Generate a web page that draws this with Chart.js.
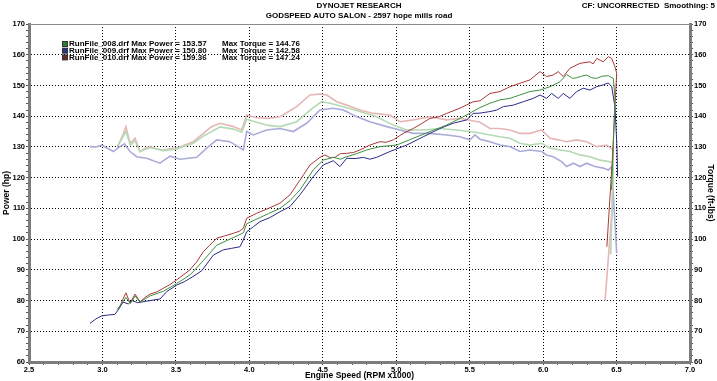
<!DOCTYPE html>
<html><head><meta charset="utf-8">
<script src="https://cdn.jsdelivr.net/npm/chart.js@4.4.1/dist/chart.umd.min.js"></script>
<style>
html,body{margin:0;padding:0;background:#fff;}
canvas{display:block;}
</style></head><body>
<canvas id="c" width="717" height="381"></canvas>
<script>
// ---- text ----
const chartTitle = 'DYNOJET RESEARCH';
const chartSubtitle = 'GODSPEED AUTO SALON - 2597 hope mills road';
const cornerNote = 'CF: UNCORRECTED  Smoothing: 5';
const xTitle = 'Engine Speed (RPM x1000)';
const yTitle = 'Power (hp)';
const y1Title = 'Torque (ft-lbs)';
const runNames = ['RunFile_008.drf', 'RunFile_009.drf', 'RunFile_010.drf'];
const maxPower = [153.57, 150.80, 159.36];
const maxTorque = [144.76, 142.58, 147.24];

// ---- series (RPM x1000, value) ----
const p008_rpm = [3.1,3.13,3.16,3.19,3.222,3.256,3.324,3.414,3.505,3.6,3.687,3.778,3.891,3.959,3.982,4.05,4.13,4.209,4.277,4.345,4.435,4.503,4.571,4.62,4.663,4.73,4.799,4.889,5.003,5.116,5.23,5.343,5.456,5.57,5.638,5.706,5.774,5.842,5.91,5.979,6.047,6.115,6.16,6.2,6.228,6.26,6.296,6.33,6.365,6.4,6.444,6.478,6.489,6.478,6.465];
const p008_hp  = [77,79,81,79,81.5,79.5,81.5,83,85.5,88.5,93,98,100.5,102,105,106.5,108.3,110,112.5,116,122.5,125.7,126.6,126,126.8,127.8,129,130.1,130.6,132.8,135,137.1,139.8,142.8,144.2,145.3,145.8,146.9,148,148.5,149.6,151.2,153.57,152.3,152.5,153,153.4,152.5,152.3,153,153.2,152.3,146.3,130,116];

const p009_rpm = [2.915,2.955,2.995,3.04,3.085,3.108,3.14,3.176,3.2,3.24,3.3,3.392,3.437,3.505,3.56,3.616,3.676,3.755,3.823,3.88,3.936,3.959,3.982,4.027,4.073,4.14,4.209,4.277,4.345,4.435,4.503,4.571,4.617,4.663,4.72,4.776,4.82,4.867,4.957,5.071,5.184,5.298,5.388,5.48,5.524,5.57,5.638,5.684,5.729,5.797,5.865,5.933,5.979,6.024,6.058,6.103,6.137,6.183,6.228,6.273,6.319,6.365,6.409,6.444,6.467,6.489,6.503,6.507];
const p009_hp  = [72.6,74,75,75.3,75.5,77,79.5,78.9,80,79.3,79.8,80.5,82.9,85,86.2,87.8,89.7,94.8,96.5,97,97.5,99.7,102.4,104,105.7,107,108.9,110.6,114.4,120.3,124.1,125.5,123.6,126.3,126.2,126.6,126,126.6,128.5,130.6,133.3,136,137.7,138.8,140.9,141,141.5,142,143.1,143.6,144.7,145.8,146.9,145.8,147.4,145.8,147.4,145.8,148,149.1,148.5,149.6,150.2,150.8,149.6,143.1,130,120.3];

const p010_rpm = [3.106,3.119,3.14,3.16,3.188,3.222,3.256,3.29,3.324,3.37,3.414,3.46,3.505,3.596,3.64,3.687,3.73,3.778,3.83,3.891,3.93,3.959,3.982,4.05,4.13,4.209,4.277,4.345,4.413,4.481,4.515,4.55,4.583,4.62,4.663,4.71,4.753,4.821,4.889,4.93,4.98,5.048,5.116,5.17,5.23,5.29,5.343,5.434,5.524,5.57,5.638,5.706,5.774,5.842,5.91,5.979,6.024,6.069,6.103,6.137,6.183,6.251,6.319,6.34,6.365,6.409,6.444,6.467,6.489,6.501,6.47,6.434];
const p010_hp  = [77.5,78,80.5,82.5,79.2,82.1,79.6,81,82.1,82.8,84,85.2,86.7,90,92.5,95.9,98,100.3,101,101.9,102.5,103.5,106.8,108.4,110,111.7,114.4,119.2,124.1,126.6,127.4,126.5,126.6,127.8,127.9,128.2,129,130.6,131.7,131.5,132.3,134.4,136,137.5,139.3,139.8,140.9,142.6,144.7,145,147.4,148,149.6,150.7,151.8,154.5,152.9,153.4,154.5,152.9,155.6,157.2,157.7,157,158.8,157.7,159.36,158.8,156.1,154,125,97.5];

const t008_rpm = [3.1,3.16,3.19,3.222,3.256,3.324,3.414,3.505,3.618,3.687,3.8,3.891,3.948,3.982,4.05,4.13,4.209,4.322,4.413,4.492,4.549,4.64,4.753,4.867,4.98,5.071,5.184,5.298,5.412,5.502,5.57,5.638,5.706,5.774,5.842,5.91,5.99,6.047,6.115,6.183,6.251,6.319,6.387,6.455,6.478,6.47,6.46];
const t008_lb  = [130,135,130.5,132,128.5,129.8,128.8,129.3,131.2,133.5,136.5,135.8,134.8,139,138,137,136.6,138.2,142,144.76,144.2,143.1,141.5,139.8,137.1,135.5,135.5,136,135.5,135,134.5,133.9,133.3,132.8,131.2,130.6,131.2,129.6,129,128.5,127.4,126.8,125.7,125.2,124.7,110,95];

const t009_rpm = [2.915,2.955,2.995,3.074,3.119,3.15,3.188,3.233,3.301,3.392,3.46,3.528,3.642,3.71,3.778,3.868,3.959,3.982,4.027,4.118,4.209,4.299,4.39,4.481,4.571,4.64,4.731,4.821,4.935,5.026,5.116,5.23,5.343,5.434,5.502,5.536,5.57,5.638,5.706,5.774,5.842,5.91,5.99,6.024,6.069,6.126,6.16,6.206,6.251,6.296,6.353,6.409,6.444,6.467,6.501];
const t009_lb  = [130.1,130,130.6,128.5,130.1,131,128.5,126.8,126.3,124.7,127,126,126.6,129.6,132.3,131.7,129,135,133.9,135.5,136,135,137.7,142,142.58,142,139.8,138.2,136.6,135.5,134.4,134.4,133.9,133.3,132.3,133.9,132.5,131.7,130.6,130.1,128.5,129,128.5,127.4,126.8,125.2,123.6,124.7,123.6,124.7,123.6,123.1,122.5,123.6,95.4];

const t010_rpm = [3.106,3.119,3.14,3.16,3.188,3.222,3.256,3.29,3.324,3.37,3.414,3.46,3.505,3.618,3.687,3.74,3.8,3.891,3.948,3.982,4.05,4.13,4.209,4.322,4.413,4.481,4.527,4.595,4.663,4.753,4.844,4.957,5.026,5.116,5.23,5.343,5.434,5.57,5.638,5.706,5.774,5.842,5.91,5.99,6.047,6.103,6.16,6.228,6.296,6.365,6.433,6.478,6.47,6.422];
const t010_lb  = [130.5,131.7,134,136.6,131.2,132.8,128.5,129.5,130.1,129.3,129,129.4,129.6,131.7,134.4,136.5,137.7,136.6,135.5,140.4,139.5,139.3,139.8,143.1,146.9,147.24,146.9,144.7,143.6,142,140.9,140.4,138.2,138.8,139.8,138.8,139.3,138,136,136,135.5,134.4,134.4,135.5,132.8,132.3,131.7,132.3,131.7,130.1,130.6,129,110,80];

// ---- axis ticks ----
const xMin = 2.5, xMax = 7.0, xMinorStep = 0.1, xMajorStep = 0.5;
const yMin = 60, yMax = 170, yMinorStep = 2, yMajorStep = 10;

// ---- styles ----
const powerColors  = ['#3d903d', '#2a2a88', '#a83838'];
const torqueColors = ['#b4d9b4', '#ababda', '#e6b6b6'];
const legendSwatch = ['#2f7f2f', '#26368a', '#6a2a22'];
const FONT = '"Liberation Sans", Arial, sans-serif';

const pts = (xs, ys) => xs.map((x, i) => ({x: x, y: ys[i]}));
const near = (v, step) => Math.abs(v / step - Math.round(v / step)) < 1e-6;
const majorX = c => c.tick && near(c.tick.value, xMajorStep) && c.tick.value > xMin + 0.01 && c.tick.value < xMax - 0.01;
const majorY = c => c.tick && near(c.tick.value, yMajorStep) && c.tick.value > yMin + 0.01 && c.tick.value < yMax - 0.01;
const tickFont = {family: FONT, size: 7.5, weight: 'bold'};
const titleFont = {family: FONT, size: 8.5, weight: 'bold'};

const datasets = [
  {data: pts(p008_rpm, p008_hp), borderColor: powerColors[0], borderWidth: 1, yAxisID: 'y'},
  {data: pts(p009_rpm, p009_hp), borderColor: powerColors[1], borderWidth: 1, yAxisID: 'y'},
  {data: pts(p010_rpm, p010_hp), borderColor: powerColors[2], borderWidth: 1, yAxisID: 'y'},
  {data: pts(t008_rpm, t008_lb), borderColor: torqueColors[0], borderWidth: 1.6, yAxisID: 'y1'},
  {data: pts(t009_rpm, t009_lb), borderColor: torqueColors[1], borderWidth: 1.6, yAxisID: 'y1'},
  {data: pts(t010_rpm, t010_lb), borderColor: torqueColors[2], borderWidth: 1.6, yAxisID: 'y1'}
];
datasets.forEach(d => { d.pointRadius = 0; d.tension = 0; d.fill = false; });

// header texts and legend, drawn as canvas text
const headerPlugin = {
  id: 'header',
  afterDraw(chart) {
    const ctx = chart.ctx;
    ctx.save();
    ctx.fillStyle = '#000';
    ctx.textBaseline = 'middle';
    ctx.font = 'bold 8px ' + FONT;
    ctx.textAlign = 'center';
    ctx.fillText(chartTitle, 359, 6);
    ctx.fillText(chartSubtitle, 359, 16);
    ctx.textAlign = 'right';
    ctx.fillText(cornerNote, 715, 6);
    ctx.textAlign = 'left';
    const rows = [44, 50.7, 57.4];
    runNames.forEach((n, i) => {
      ctx.fillStyle = '#333';
      ctx.fillRect(62, rows[i] - 3, 6, 6);
      ctx.fillStyle = legendSwatch[i];
      ctx.fillRect(63, rows[i] - 2, 4, 4);
      ctx.fillStyle = '#000';
      ctx.fillText(n + ' Max Power = ' + maxPower[i].toFixed(2), 69, rows[i]);
      ctx.fillText('Max Torque = ' + maxTorque[i].toFixed(2), 222, rows[i]);
    });
    ctx.restore();
  }
};

new Chart(document.getElementById('c'), {
  type: 'line',
  data: {datasets},
  plugins: [headerPlugin],
  options: {
    responsive: false,
    animation: false,
    devicePixelRatio: 1,
    events: [],
    layout: {padding: {top: 24}},
    plugins: {legend: {display: false}, tooltip: {enabled: false}},
    scales: {
      x: {
        type: 'linear', min: xMin, max: xMax,
        ticks: {stepSize: xMinorStep, autoSkip: false, maxRotation: 0, font: tickFont, color: '#000', padding: 0,
                callback: v => near(v, xMajorStep) ? Number(v).toFixed(1) : ''},
        grid: {color: c => majorX(c) ? '#000' : 'rgba(0,0,0,0)', lineWidth: 1, tickLength: 3, tickColor: '#555'},
        border: {color: '#7c7c7c', width: 3, dash: [1, 2]},
        title: {display: true, text: xTitle, color: '#000', font: titleFont, padding: {top: 0, bottom: 0.5}},
        afterFit: s => { s.height = 19; }
      },
      y: {
        position: 'left', min: yMin, max: yMax,
        ticks: {stepSize: yMinorStep, autoSkip: false, font: tickFont, color: '#000', padding: 1,
                callback: v => near(v, yMajorStep) ? String(v) : ''},
        grid: {color: c => majorY(c) ? '#000' : 'rgba(0,0,0,0)', lineWidth: 1, tickLength: 3, tickColor: '#555'},
        border: {color: '#7c7c7c', width: 3, dash: [1, 2]},
        title: {display: true, text: yTitle, color: '#000', font: titleFont, padding: {top: 2, bottom: 0}},
        afterFit: s => { s.width = 29; }
      },
      y1: {
        position: 'right', min: yMin, max: yMax,
        ticks: {stepSize: yMinorStep, autoSkip: false, font: tickFont, color: '#000', padding: 1,
                callback: v => near(v, yMajorStep) ? String(v) : ''},
        grid: {drawOnChartArea: false, tickLength: 3, tickColor: '#555'},
        border: {color: '#7c7c7c', width: 3},
        title: {display: true, text: y1Title, color: '#000', font: titleFont, padding: {top: 2, bottom: 0}},
        afterFit: s => { s.width = 27; }
      },
      xTop: {
        type: 'linear', position: 'top', min: xMin, max: xMax,
        ticks: {display: false},
        grid: {display: false, drawTicks: false},
        border: {display: true, color: '#8c8c8c', width: 1},
        afterFit: s => { s.height = 0; }
      }
    }
  }
});
</script>
</body></html>
